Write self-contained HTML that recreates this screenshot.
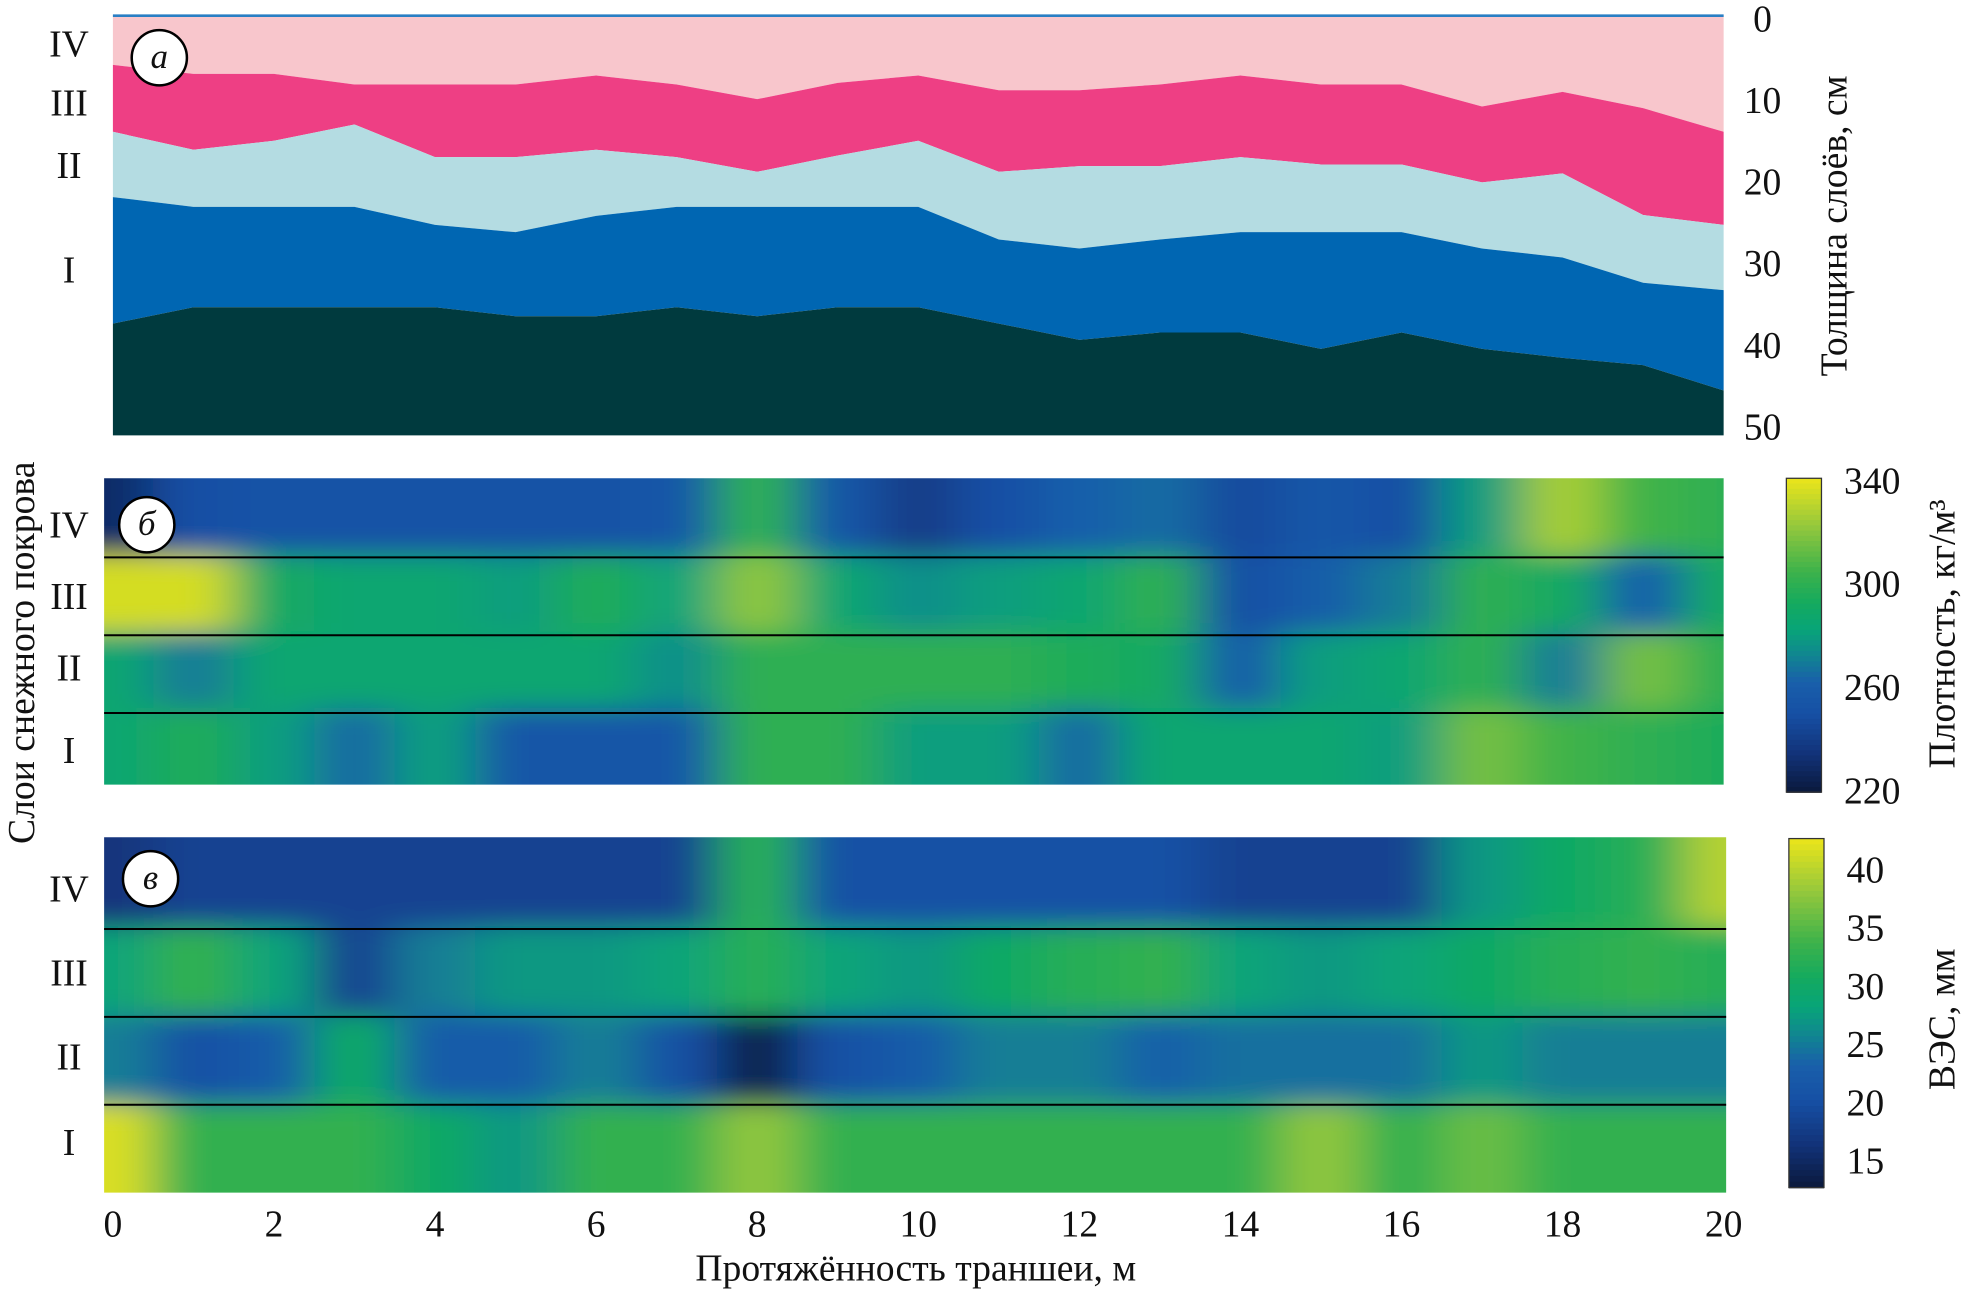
<!DOCTYPE html>
<html><head><meta charset="utf-8"><style>
html,body{margin:0;padding:0;background:#fff}
svg{display:block}
text{font-family:"Liberation Serif",serif;fill:#111}
</style></head><body>
<svg id="chart" width="1967" height="1293" viewBox="0 0 1568 1030" preserveAspectRatio="none" xmlns="http://www.w3.org/2000/svg">
<defs>
<filter id="blurB" x="-5%" y="-20%" width="110%" height="140%"><feGaussianBlur stdDeviation="20 10"/></filter>
<clipPath id="clipB"><rect x="83" y="381" width="1291" height="244"/></clipPath>
<clipPath id="clipC"><rect x="83" y="667" width="1293" height="283"/></clipPath>
</defs>
<g id="panelA"></g>
<g id="panelB" clip-path="url(#clipB)"><g id="cellsB" filter="url(#blurB)"></g></g>
<g id="panelC" clip-path="url(#clipC)"><g id="cellsC" filter="url(#blurB)"></g></g>
<g id="overlay"></g>
</svg>
<script>
// ---- data ----
const xTicks=[0,2,4,6,8,10,12,14,16,18,20];
const depthTicks=[0,10,20,30,40,50];
const bnd43=[5.8,6.9,6.9,8.2,8.2,8.2,7.1,8.2,10,8,7.1,8.9,8.9,8.2,7.1,8.2,8.2,10.9,9.1,11.1,14];
const bnd32=[14,16.2,15.1,13.1,17.1,17.1,16.2,17.1,18.9,16.9,15.1,18.9,18.2,18.2,17.1,18,18,20.2,19.1,24.2,25.4];
const bnd21=[22,23.2,23.2,23.2,25.4,26.3,24.3,23.2,23.2,23.2,23.2,27.2,28.3,27.2,26.3,26.3,26.3,28.3,29.4,32.5,33.4];
const bnd1g=[37.5,35.5,35.5,35.5,35.5,36.6,36.6,35.5,36.6,35.5,35.5,37.5,39.5,38.6,38.6,40.6,38.6,40.6,41.7,42.6,45.7];
const densIV=[230,250,252,252,252,252,252,255,300,255,240,250,262,265,248,255,250,280,325,305,300];
const densIII=[335,335,290,285,285,280,295,282,320,285,275,280,285,300,250,260,270,300,290,262,290];
const densII=[285,270,285,285,285,285,285,275,300,300,300,300,295,290,260,280,285,300,270,315,300];
const densI=[285,295,280,265,280,255,255,255,300,300,280,280,265,285,285,285,280,315,305,300,295];
const sweIV=[16,18,18,18,18,18,18,18,32,20,20,20,20,20,18,18,18,27,30,32,40];
const sweIII=[28,33,28,18,25,27,27,28,32,28,27,30,32,33,28,27,28,30,32,33,32];
const sweII=[25,20,22,30,22,22,25,20,13,20,22,25,25,23,24,24,24,27,25,25,25];
const sweI=[42,33,33,33,30,27,33,33,38,33,33,33,33,33,33,38,33,36,33,33,33];
const densTicks=[220,260,300,340];
const sweTicks=[15,20,25,30,35,40];
const romans=["IV","III","II","I"];

const NS="http://www.w3.org/2000/svg";
const svg=document.getElementById('chart');
function mk(tag,attrs,parent,txt){const e=document.createElementNS(NS,tag);for(const k in attrs)e.setAttribute(k,attrs[k]);if(txt!==undefined)e.textContent=txt;(parent||svg).appendChild(e);return e;}
const X=m=>90+m*(1374-90)/20;
const D=d=>14+d*6.5;
const stops=[[0,[10,25,60]],[0.12,[18,50,120]],[0.25,[22,80,165]],[0.35,[25,95,170]],[0.45,[15,140,140]],[0.52,[8,165,120]],[0.6,[20,170,95]],[0.7,[60,178,75]],[0.85,[150,200,60]],[1,[236,229,26]]];
function cmap(t){t=Math.max(0,Math.min(1,t));for(let i=1;i<stops.length;i++){if(t<=stops[i][0]){const a=stops[i-1],b=stops[i];const f=(t-a[0])/(b[0]-a[0]);const c=a[1].map((v,j)=>Math.round(v+(b[1][j]-v)*f));return `rgb(${c})`;}}return 'rgb(236,229,26)';}

// ---- panel a ----
const A=document.getElementById('panelA');
function area(top,bot,fill,name){
  let p='';top.forEach((d,i)=>p+=(i?'L':'M')+X(i)+','+D(d));
  for(let i=bot.length-1;i>=0;i--)p+='L'+X(i)+','+D(bot[i]);
  const e=mk('path',{d:p+'Z',fill:fill},A);
  
  
}
const zeros=bnd43.map(()=>-0.3), bottoms=bnd43.map(()=>51.2);
area(zeros,bnd43,'#f8c6cc','layer-iv-area');
area(bnd43,bnd32,'#ee3f84','layer-iii-area');
area(bnd32,bnd21,'#b4dce2','layer-ii-area');
area(bnd21,bnd1g,'#0066b2','layer-i-area');
area(bnd1g,bottoms,'#003a3e','ground-area');
mk('line',{x1:90,x2:1374,y1:12.5,y2:12.5,stroke:'#2a7fc4','stroke-width':2},A);

// ---- heatmaps ----
function heat(gid,rows,y0,y1,t){
  const g=document.getElementById(gid);const h=(y1-y0)/rows.length;const w=(X(1)-X(0));
  rows.forEach((row,r)=>{row.forEach((v,i)=>{
    let xa=X(i)-w/2,xb=X(i)+w/2; if(i===0)xa-=80; if(i===row.length-1)xb+=80;
    let ya=y0+r*h,yb=ya+h; if(r===0)ya-=50; if(r===rows.length-1)yb+=50;
    const e=mk('rect',{x:xa,y:ya,width:xb-xa+0.5,height:yb-ya+0.5,fill:cmap(t(v))},g);
    
    
  });});
}
heat('cellsB',[densIV,densIII,densII,densI],381,625,v=>(v-220)/120);
heat('cellsC',[sweIV,sweIII,sweII,sweI],667,950,v=>(v-12)/31);

const O=document.getElementById('overlay');
[444,506,568].forEach(y=>mk('line',{x1:83,x2:1374,y1:y,y2:y,stroke:'#000','stroke-width':1.6},O));
[740,810,880].forEach(y=>mk('line',{x1:83,x2:1376,y1:y,y2:y,stroke:'#000','stroke-width':1.6},O));

[[35,82,132,215],[418,475,532,598],[708,775,842,910]].forEach(ys=>ys.forEach((y,i)=>{
  const t=mk('text',{x:55,y:y+10,'font-size':30,'text-anchor':'middle'},O,romans[i]);
  
  
}));
[[127,46,'а'],[117,418,'б'],[120,700,'в']].forEach(([cx,cy,l])=>{
  const c=mk('circle',{cx:cx,cy:cy,r:22,fill:'#fff',stroke:'#000','stroke-width':2},O);
  
  
  mk('text',{x:cx,y:cy+8,'font-size':28,'font-style':'italic','text-anchor':'middle'},O,l);
});
xTicks.forEach(m=>{const t=mk('text',{x:X(m),y:985,'font-size':30,'text-anchor':'middle'},O,m);
  
  });
const xt=mk('text',{x:730,y:1020,'font-size':30,'text-anchor':'middle'},O,'Протяжённость траншеи, м');


const yl=mk('text',{x:0,y:0,'font-size':30,'text-anchor':'middle',transform:'translate(27,520) rotate(-90)'},O,'Слои снежного покрова');


depthTicks.forEach(d=>{const t=mk('text',{x:1405,y:D(d)+11,'font-size':30,'text-anchor':'middle'},O,d);
  
  });
const dt=mk('text',{x:0,y:0,'font-size':30,'text-anchor':'middle',transform:'translate(1472,180) rotate(-90)'},O,'Толщина слоёв, см');


function cbar(x,y0,y1,vmin,vmax,ticks,ty,name){
  const n=60,h=(y1-y0)/n;
  for(let i=0;i<n;i++){const v=vmin+(vmax-vmin)*(n-i-0.5)/n;
    mk('rect',{x:x,y:y0+i*h,width:28,height:h+0.6,fill:cmap((v-vmin)/(vmax-vmin))},O);}
  const fr=mk('rect',{x:x,y:y0,width:28,height:y1-y0,fill:'none',stroke:'#333','stroke-width':1},O);
  
  
  ticks.forEach(v=>{const t=mk('text',{x:x+46,y:ty(v)+10,'font-size':30},O,v);
    
    });
}
cbar(1424,381,631,220,340,densTicks,v=>630-(v-220)*(630-383)/120,'density-colorbar');
cbar(1426,668,946,12,43,sweTicks,v=>925-(v-15)*(925-693)/25,'swe-colorbar');
const dl=mk('text',{x:0,y:0,'font-size':30,'text-anchor':'middle',transform:'translate(1558,505) rotate(-90)'},O,'Плотность, кг/м³');


const sl=mk('text',{x:0,y:0,'font-size':30,'text-anchor':'middle',transform:'translate(1558,812) rotate(-90)'},O,'ВЭС, мм');


</script>
</body></html>
